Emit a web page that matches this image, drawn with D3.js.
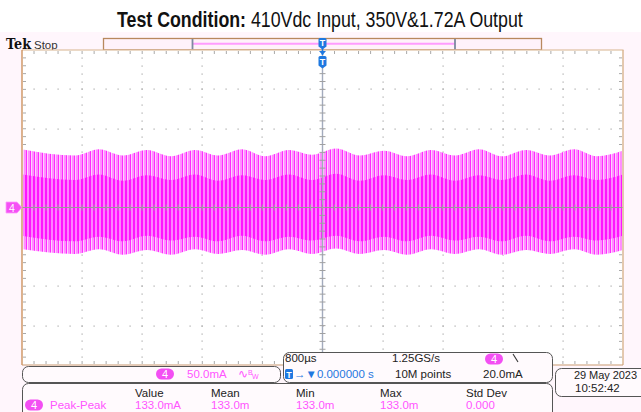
<!DOCTYPE html>
<html><head><meta charset="utf-8">
<script src="https://cdn.jsdelivr.net/npm/d3@7"></script>
<style>body{margin:0;background:#fff}svg{display:block}</style>
</head><body>
<svg id="c" width="641" height="412"></svg>
<script>
// ---- data ----
const titleBold = "Test Condition:";
const titleRest = " 410Vdc Input, 350V&1.72A Output";
const xDomainUs = [-4000, 4000];      // 10 div x 800 µs, trigger at centre
const yDomainMA = [-200, 200];        // 8 div x 50 mA
const envTimeUs = [-4000,-3294,-2975,-2656,-2336,-2017,-1697,-1391,-1072,-765,-446,-140,180,499,819,1125,1444,1764,2083,2389,2709,3028,3348,3654,4000];
const envUpperMA = [74,66,74,66,73,65,73,66,74,65,73,67,75,66,72,65,73,66,74,65,73,66,74,65,72];
const envLowerMA = [-53,-59,-53,-60,-54,-60,-53,-59,-54,-60,-53,-59,-52,-59,-54,-60,-53,-59,-53,-60,-54,-59,-53,-60,-54];
const coreUpperMA = [42,35,42,34,41,35,42,34,41,35,42,35,43,34,41,35,42,34,41,35,42,34,41,35,42];
const coreLowerMA = [-36,-43,-37,-43,-36,-42,-37,-43,-36,-43,-37,-42,-36,-43,-37,-43,-36,-42,-37,-43,-36,-43,-37,-42,-36];
const measHeaders = ["Value","Mean","Min","Max","Std Dev"];
const measValues = ["133.0mA","133.0m","133.0m","133.0m","0.000"];
const measName = "Peak-Peak";
const chScale = "50.0mA";
const timeDiv = "800µs";
const sampleRate = "1.25GS/s";
const trigPos = "0.000000 s";
const recLen = "10M points";
const trigLevel = "20.0mA";
const dateStr = "29 May 2023";
const timeStr = "10:52:42";

// ---- layout ----
const L = 22, R = 623, T = 50, B = 365;
const svg = d3.select("#c");
const x = d3.scaleLinear().domain(xDomainUs).range([L, R]);
const y = d3.scaleLinear().domain(yDomainMA).range([B, T]);
const SANS = "'Liberation Sans', Arial, sans-serif";
const MAG = "#ff2cff", PINK = "#ff8eff";

// title
const tt = svg.append("text").attr("y", 27).attr("font-family", SANS).attr("font-size", 21.5).attr("fill", "#111");
tt.append("tspan").attr("font-weight", "bold").text(titleBold);
tt.append("tspan").text(titleRest);
{
  const w = tt.node().getComputedTextLength();
  const sx = 406 / w;
  tt.attr("transform", `translate(117,0) scale(${sx},1)`).attr("x", 0);
}

// scope background
svg.append("rect").attr("x", 0).attr("y", 32).attr("width", 641).attr("height", 380).attr("fill", "#fff6fc");

// Tek Stop
svg.append("text").attr("x", 6).attr("y", 49).attr("font-family", "'DejaVu Serif', serif").attr("font-weight", "bold")
  .attr("font-size", 14.5).attr("fill", "#111").attr("textLength", 25).attr("lengthAdjust", "spacingAndGlyphs").text("Tek");
svg.append("text").attr("x", 34).attr("y", 48.5).attr("font-family", SANS).attr("font-size", 11.5).attr("fill", "#333").text("Stop");

// record bar
svg.append("rect").attr("x", 103.5).attr("y", 38.5).attr("width", 438).attr("height", 11.5)
  .attr("fill", "#fff2fa").attr("stroke", "#b8885e").attr("stroke-width", 1.3);
svg.append("line").attr("x1", 193).attr("x2", 455).attr("y1", 43.8).attr("y2", 43.8).attr("stroke", "#ff9cff").attr("stroke-width", 2);
[192.5, 455].forEach(v => svg.append("line").attr("x1", v).attr("x2", v).attr("y1", 39).attr("y2", 49.5).attr("stroke", "#7d8aa0").attr("stroke-width", 1.8));

// plot area
svg.append("rect").attr("x", L).attr("y", T).attr("width", R - L).attr("height", B - T).attr("fill", "#ffffff");

// grid
const majX = d3.range(xDomainUs[0], xDomainUs[1] + 1, 800);
const minX = d3.range(xDomainUs[0], xDomainUs[1] + 1, 160);
const majY = d3.range(yDomainMA[0], yDomainMA[1] + 1, 50);
const minY = d3.range(yDomainMA[0], yDomainMA[1] + 1, 10);
const grid = svg.append("g").attr("fill", "#a9a9a9");
majX.slice(1, -1).forEach(xv => { if (xv === 0) return;
  minY.slice(1, -1).forEach(yv => grid.append("rect").attr("x", Math.round(x(xv)) - 0.5).attr("y", Math.round(y(yv)) - 0.5).attr("width", 1.2).attr("height", 1.2)); });
majY.slice(1, -1).forEach(yv => { if (yv === 0) return;
  minX.slice(1, -1).forEach(xv => grid.append("rect").attr("x", Math.round(x(xv)) - 0.5).attr("y", Math.round(y(yv)) - 0.5).attr("width", 1.2).attr("height", 1.2)); });
// edge ticks
const et = svg.append("g").attr("stroke", "#a9a9a9").attr("stroke-width", 1);
minX.slice(1, -1).forEach(xv => {
  et.append("line").attr("x1", x(xv)).attr("x2", x(xv)).attr("y1", T + 1).attr("y2", T + 4);
  et.append("line").attr("x1", x(xv)).attr("x2", x(xv)).attr("y1", B - 4).attr("y2", B - 1);
});
minY.slice(1, -1).forEach(yv => {
  et.append("line").attr("y1", y(yv)).attr("y2", y(yv)).attr("x1", L + 1).attr("x2", L + 4);
  et.append("line").attr("y1", y(yv)).attr("y2", y(yv)).attr("x1", R - 4).attr("x2", R - 1);
});

// waveform patterns
const defs = svg.append("defs");
const pA = defs.append("pattern").attr("id", "pA").attr("patternUnits", "userSpaceOnUse").attr("width", 4).attr("height", 8);
pA.append("rect").attr("width", 4).attr("height", 8).attr("fill", "#ffd0ff");
pA.append("rect").attr("x", 0).attr("width", 2).attr("height", 8).attr("fill", PINK);
pA.append("rect").attr("x", 2).attr("width", 1).attr("height", 8).attr("fill", MAG);
const pB = defs.append("pattern").attr("id", "pB").attr("patternUnits", "userSpaceOnUse").attr("width", 4).attr("height", 8);
pB.append("rect").attr("width", 4).attr("height", 8).attr("fill", "#ff80ff");
pB.append("rect").attr("x", 1).attr("width", 2).attr("height", 8).attr("fill", "#ff14ff");
defs.append("clipPath").attr("id", "plotClip").append("rect").attr("x", L + 1).attr("y", T).attr("width", R - L - 2).attr("height", B - T);

const envData = envTimeUs.map((t, i) => ({t, hi: envUpperMA[i], lo: envLowerMA[i], chi: coreUpperMA[i], clo: coreLowerMA[i]}));
const wave = svg.append("g").attr("clip-path", "url(#plotClip)");
wave.append("path").datum(envData)
  .attr("d", d3.area().x(d => x(d.t)).y0(d => y(d.lo)).y1(d => y(d.hi)).curve(d3.curveMonotoneX))
  .attr("fill", "url(#pA)");
wave.append("path").datum(envData)
  .attr("d", d3.area().x(d => x(d.t)).y0(d => y(d.clo)).y1(d => y(d.chi)).curve(d3.curveMonotoneX))
  .attr("fill", "url(#pB)");

// centre lines with ticks
const cl = svg.append("g");
cl.append("line").attr("x1", L).attr("x2", R).attr("y1", y(0)).attr("y2", y(0)).attr("stroke", "#9a9a9a").attr("stroke-width", 1.2);
cl.append("line").attr("x1", x(0)).attr("x2", x(0)).attr("y1", T).attr("y2", B).attr("stroke", "#a3abbd").attr("stroke-width", 1.4);
minX.slice(1, -1).forEach(xv => cl.append("line").attr("x1", x(xv)).attr("x2", x(xv)).attr("y1", y(0) - 3).attr("y2", y(0) + 3).attr("stroke", "#a0a0a0"));
minY.slice(1, -1).forEach(yv => cl.append("line").attr("y1", y(yv)).attr("y2", y(yv)).attr("x1", x(0) - 3).attr("x2", x(0) + 3).attr("stroke", "#a0a0a0"));

// plot border
const bd = svg.append("g").attr("fill", "none");
bd.append("line").attr("x1", L).attr("x2", R + 0.5).attr("y1", T).attr("y2", T).attr("stroke", "#d8b48e").attr("stroke-width", 1.2);
bd.append("line").attr("x1", L).attr("x2", L).attr("y1", T).attr("y2", B).attr("stroke", "#c98a52").attr("stroke-width", 1.3);
bd.append("line").attr("x1", R).attr("x2", R).attr("y1", T).attr("y2", B).attr("stroke", "#d8b48e").attr("stroke-width", 1.4);
bd.append("line").attr("x1", L).attr("x2", R).attr("y1", B).attr("y2", B).attr("stroke", "#c99a70").attr("stroke-width", 1.2);

// trigger markers
function shield(g, cx, y0, h) {
  g.append("path").attr("d", `M${cx - 4},${y0 + 1.5} q0,-1.5 1.5,-1.5 h5 q1.5,0 1.5,1.5 v${h - 4} l-4,3 l-4,-3 z`).attr("fill", "#1f78e0");
  g.append("text").attr("x", cx).attr("y", y0 + h - 3.5).attr("text-anchor", "middle").attr("font-family", SANS)
    .attr("font-weight", "bold").attr("font-size", 9).attr("fill", "#fff").text("T");
}
const tg = svg.append("g");
tg.append("line").attr("x1", x(0)).attr("x2", x(0)).attr("y1", 47).attr("y2", 55).attr("stroke", "#1f78e0").attr("stroke-width", 1.5);
tg.append("path").attr("d", `M${x(0) - 3.5},51 h7 l-3.5,4 z`).attr("fill", "#1f78e0");
shield(tg, x(0), 38, 11);
shield(tg, x(0), 56, 12);

// channel 4 marker
svg.append("path").attr("d", `M6,${y(0) - 5.5} h11 l5,5.5 l-5,5.5 h-11 z`).attr("fill", "#f550f5").attr("stroke", "#ff9cff").attr("stroke-width", 0.8);
svg.append("text").attr("x", 12).attr("y", y(0) + 4).attr("text-anchor", "middle").attr("font-family", SANS).attr("font-size", 10.5).attr("fill", "#fff").text("4");

// status boxes
function rbox(x0, y0, w, h) {
  svg.append("rect").attr("x", x0 + 0.5).attr("y", y0 + 0.5).attr("width", w).attr("height", h).attr("rx", 6)
    .attr("fill", "#fffafd").attr("stroke", "#555").attr("stroke-width", 1);
}
function badge(cx, cy) {
  svg.append("rect").attr("x", cx - 9).attr("y", cy - 5.5).attr("width", 18).attr("height", 11).attr("rx", 5.5).attr("fill", "#f34ff3");
  svg.append("text").attr("x", cx).attr("y", cy + 4).attr("text-anchor", "middle").attr("font-family", SANS).attr("font-size", 11).attr("fill", "#fff").text("4");
}
function txt(xp, yp, s, col, anchor) {
  return svg.append("text").attr("x", xp).attr("y", yp).attr("font-family", SANS).attr("font-size", 11.5)
    .attr("fill", col).attr("text-anchor", anchor || "start").text(s);
}
rbox(22, 366, 258, 16);
rbox(283, 352, 269, 30);
rbox(22, 383, 530, 40);
rbox(555, 368, 95, 28);

badge(165, 374);
txt(187, 378, chScale, "#ff55ff");
txt(238, 378, "∿", "#ff55ff");
svg.append("text").attr("x", 248).attr("y", 375).attr("font-family", SANS).attr("font-size", 7).attr("fill", "#ff55ff").text("B");
svg.append("text").attr("x", 252).attr("y", 379).attr("font-family", SANS).attr("font-size", 7).attr("fill", "#ff55ff").text("W");

txt(285, 362, timeDiv, "#222");
txt(392, 362, sampleRate, "#222");
badge(494, 359);
svg.append("line").attr("x1", 513).attr("x2", 518).attr("y1", 354).attr("y2", 362).attr("stroke", "#333").attr("stroke-width", 1.1);
svg.append("rect").attr("x", 285).attr("y", 369).attr("width", 8).attr("height", 10).attr("rx", 1.5).attr("fill", "#1f78e0");
svg.append("text").attr("x", 289).attr("y", 377.5).attr("text-anchor", "middle").attr("font-family", SANS).attr("font-weight", "bold").attr("font-size", 9).attr("fill", "#fff").text("T");
txt(294, 378, "→▼" + trigPos, "#1f78e0");
txt(395, 378, recLen, "#222");
txt(483, 378, trigLevel, "#222");

const colX = [135, 211, 296, 380, 466];
measHeaders.forEach((h, i) => txt(colX[i], 397, h, "#222"));
badge(34, 405);
txt(50, 409, measName, "#ff55ff");
measValues.forEach((v, i) => txt(colX[i], 409, v, "#ff55ff"));

txt(574, 379, dateStr, "#222").attr("font-size", 11).attr("textLength", 63).attr("lengthAdjust", "spacing");
txt(575, 392, timeStr, "#222");
</script>
</body></html>
